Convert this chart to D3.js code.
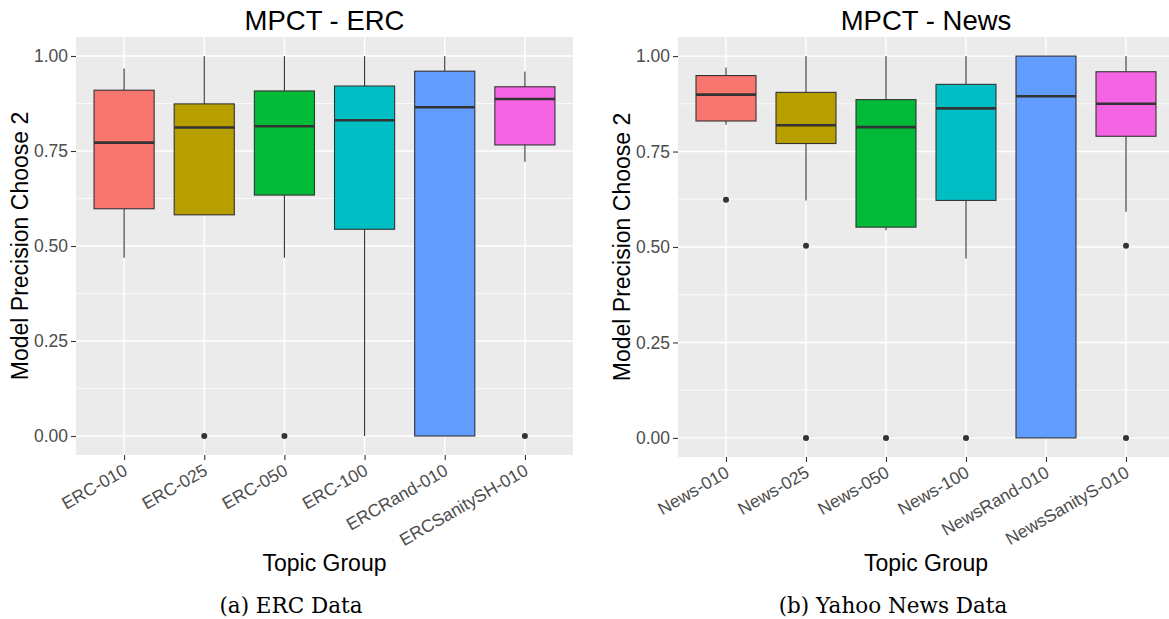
<!DOCTYPE html>
<html>
<head>
<meta charset="utf-8">
<script src="https://cdn.jsdelivr.net/npm/d3@7"></script>
<style>
  body { margin: 0; background: #fff; }
  svg { display: block; }
</style>
</head>
<body>
<div id="chart"></div>
<script>
// ERC panel
var ercGroups = ["ERC-010", "ERC-025", "ERC-050", "ERC-100", "ERCRand-010", "ERCSanitySH-010"];
var ercLow    = [0.469, 0.582, 0.469, 0.000, 0.000, 0.722];
var ercQ1     = [0.598, 0.582, 0.634, 0.544, 0.000, 0.766];
var ercMedian = [0.772, 0.812, 0.815, 0.831, 0.865, 0.887];
var ercQ3     = [0.910, 0.874, 0.908, 0.921, 0.960, 0.919];
var ercHigh   = [0.967, 1.000, 1.000, 1.000, 1.000, 0.959];
var ercOutliers = [[], [0], [0], [], [], [0]];

// News panel
var newsGroups = ["News-010", "News-025", "News-050", "News-100", "NewsRand-010", "NewsSanityS-010"];
var newsLow    = [0.820, 0.622, 0.544, 0.470, 0.000, 0.592];
var newsQ1     = [0.830, 0.771, 0.552, 0.622, 0.000, 0.790];
var newsMedian = [0.899, 0.819, 0.814, 0.863, 0.895, 0.875];
var newsQ3     = [0.949, 0.905, 0.886, 0.926, 1.000, 0.959];
var newsHigh   = [0.970, 1.000, 1.000, 1.000, 1.000, 1.000];
var newsOutliers = [[0.624], [0.503, 0], [0], [0], [], [0.503, 0]];

var yTicks = [0, 0.25, 0.5, 0.75, 1];
var yMinor = [0.125, 0.375, 0.625, 0.875];
var fills = ["#F8766D", "#B79F00", "#00BA38", "#00BFC4", "#619CFF", "#F564E3"];

var sans = "'Liberation Sans', Arial, sans-serif";

var svg = d3.select("#chart").append("svg")
    .attr("width", 1169)
    .attr("height", 619)
    .style("font-family", sans);

function panel(opt) {
    var groups = opt.groups;
    var data = groups.map(function(g, i) {
        return {name: g, low: opt.low[i], q1: opt.q1[i], med: opt.med[i], q3: opt.q3[i],
                high: opt.high[i], out: opt.out[i], fill: fills[i]};
    });

    // discrete scale with ggplot's 0.6 expansion on each side
    var step = (opt.right - opt.left) / (groups.length - 1 + 1.2);
    var xScale = d3.scalePoint().domain(groups)
        .range([opt.left + 0.6 * step, opt.right - 0.6 * step]);
    var yScale = d3.scaleLinear().domain([-0.05, 1.05]).range([opt.bottom, opt.top]);
    var boxW = step * 0.75;

    var g = svg.append("g");

    g.append("rect")
        .attr("x", opt.left)
        .attr("y", opt.top)
        .attr("width", opt.right - opt.left)
        .attr("height", opt.bottom - opt.top)
        .attr("fill", "#EBEBEB");

    g.selectAll(".minor").data(yMinor).join("line")
        .attr("x1", opt.left).attr("x2", opt.right)
        .attr("y1", d => yScale(d)).attr("y2", d => yScale(d))
        .attr("stroke", "#fff").attr("stroke-width", 0.7);

    g.selectAll(".majorY").data(yTicks).join("line")
        .attr("x1", opt.left).attr("x2", opt.right)
        .attr("y1", d => yScale(d)).attr("y2", d => yScale(d))
        .attr("stroke", "#fff").attr("stroke-width", 1.4);

    g.selectAll(".majorX").data(groups).join("line")
        .attr("x1", d => xScale(d)).attr("x2", d => xScale(d))
        .attr("y1", opt.top).attr("y2", opt.bottom)
        .attr("stroke", "#fff").attr("stroke-width", 1.4);

    var box = g.selectAll(".box").data(data).join("g");

    // whiskers
    box.append("line")
        .attr("x1", d => xScale(d.name)).attr("x2", d => xScale(d.name))
        .attr("y1", d => yScale(d.q3)).attr("y2", d => yScale(d.high))
        .attr("stroke", "#333").attr("stroke-width", 1.1);
    box.append("line")
        .attr("x1", d => xScale(d.name)).attr("x2", d => xScale(d.name))
        .attr("y1", d => yScale(d.q1)).attr("y2", d => yScale(d.low))
        .attr("stroke", "#333").attr("stroke-width", 1.1);

    box.append("rect")
        .attr("x", d => xScale(d.name) - boxW / 2)
        .attr("width", boxW)
        .attr("y", d => yScale(d.q3))
        .attr("height", d => yScale(d.q1) - yScale(d.q3))
        .attr("fill", d => d.fill)
        .attr("stroke", "#333").attr("stroke-width", 1.1);

    box.append("line")
        .attr("x1", d => xScale(d.name) - boxW / 2).attr("x2", d => xScale(d.name) + boxW / 2)
        .attr("y1", d => yScale(d.med)).attr("y2", d => yScale(d.med))
        .attr("stroke", "#333").attr("stroke-width", 2.6);

    box.selectAll("circle").data(d => d.out.map(v => ({name: d.name, v: v}))).join("circle")
        .attr("cx", d => xScale(d.name))
        .attr("cy", d => yScale(d.v))
        .attr("r", 3)
        .attr("fill", "#333");

    // axes
    var yAxis = g.append("g")
        .attr("transform", "translate(" + opt.left + ",0)")
        .call(d3.axisLeft(yScale).tickValues(yTicks).tickFormat(d3.format(".2f")).tickSize(5).tickPadding(3));
    yAxis.select(".domain").remove();
    yAxis.selectAll("line").attr("stroke", "#333").attr("stroke-width", 1.1);
    yAxis.selectAll("text").attr("fill", "#4D4D4D").style("font-size", "17.5px")
        .style("font-family", sans);

    var xAxis = g.append("g")
        .attr("transform", "translate(0," + opt.bottom + ")")
        .call(d3.axisBottom(xScale).tickSize(5).tickPadding(4));
    xAxis.select(".domain").remove();
    xAxis.selectAll("line").attr("stroke", "#333").attr("stroke-width", 1.1);
    xAxis.selectAll("text")
        .attr("fill", "#4D4D4D").style("font-size", "17.5px")
        .style("font-family", sans)
        .attr("text-anchor", "end")
        .attr("dy", null)
        .attr("y", 0)
        .attr("transform", "translate(4,19) rotate(-30)");

    var cx = (opt.left + opt.right) / 2;
    var cy = (opt.top + opt.bottom) / 2;

    g.append("text")
        .attr("x", cx).attr("y", 30)
        .attr("text-anchor", "middle")
        .style("font-size", "27.5px")
        .text(opt.title);

    g.append("text")
        .attr("x", cx).attr("y", 571)
        .attr("text-anchor", "middle")
        .style("font-size", "23px")
        .text("Topic Group");

    g.append("text")
        .attr("transform", "translate(" + (opt.left - 48) + "," + cy + ") rotate(-90)")
        .attr("text-anchor", "middle")
        .style("font-size", "23px")
        .text("Model Precision Choose 2");

    g.append("text")
        .attr("x", opt.capX).attr("y", 613)
        .attr("text-anchor", "middle")
        .style("font-family", "'DejaVu Serif', serif")
        .style("font-size", "21.5px")
        .text(opt.caption);
}

panel({
    groups: ercGroups, low: ercLow, q1: ercQ1, med: ercMedian, q3: ercQ3, high: ercHigh, out: ercOutliers,
    left: 76, right: 573, top: 37, bottom: 455,
    title: "MPCT - ERC", caption: "(a) ERC Data", capX: 291
});

panel({
    groups: newsGroups, low: newsLow, q1: newsQ1, med: newsMedian, q3: newsQ3, high: newsHigh, out: newsOutliers,
    left: 678, right: 1174, top: 37, bottom: 457,
    title: "MPCT - News", caption: "(b) Yahoo News Data", capX: 893
});
</script>
</body>
</html>
